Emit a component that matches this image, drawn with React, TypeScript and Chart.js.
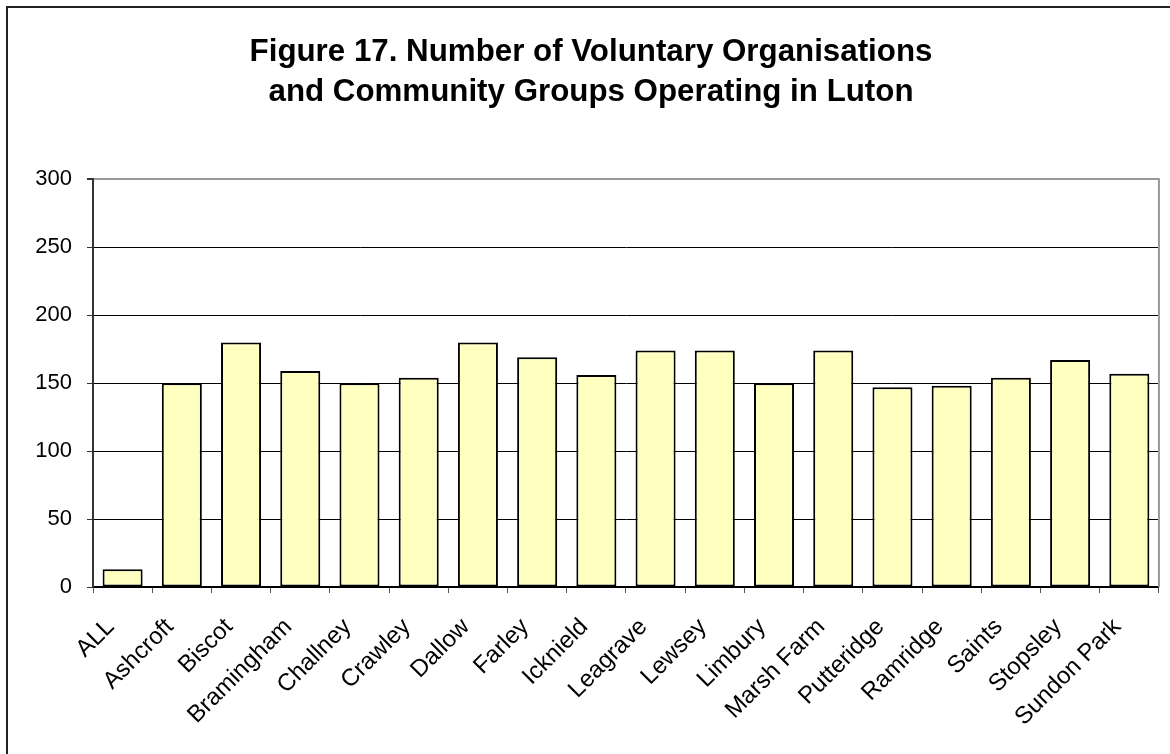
import React, { useEffect, useRef } from 'react';
import { Chart, registerables } from 'chart.js';

Chart.register(...registerables);

const categories = [
  'ALL', 'Ashcroft', 'Biscot', 'Bramingham', 'Challney', 'Crawley', 'Dallow', 'Farley', 'Icknield',
  'Leagrave', 'Lewsey', 'Limbury', 'Marsh Farm', 'Putteridge', 'Ramridge', 'Saints', 'Stopsley', 'Sundon Park',
];
const counts = [13, 150, 180, 159, 150, 154, 180, 169, 156, 174, 174, 150, 174, 147, 148, 154, 167, 157];
const titleLines = ['Figure 17. Number of Voluntary Organisations', 'and Community Groups Operating in Luton'];
const yMin = 0;
const yMax = 300;
const yStep = 50;

const FONT = "'Liberation Sans', Arial, Helvetica, sans-serif";

const framePlugin = {
  id: 'plotFrame',
  beforeDatasetsDraw(chart: any) {
    const { ctx, chartArea } = chart;
    ctx.save();
    ctx.strokeStyle = '#999';
    ctx.lineWidth = 2;
    ctx.beginPath();
    ctx.moveTo(chartArea.right, chartArea.top - 1);
    ctx.lineTo(chartArea.right, chartArea.bottom);
    ctx.stroke();
    ctx.restore();
  },
};

export default function App() {
  const canvasRef = useRef<HTMLCanvasElement | null>(null);

  useEffect(() => {
    const canvas = canvasRef.current;
    if (!canvas) return;
    const chart = new Chart(canvas, {
      type: 'bar',
      data: {
        labels: categories,
        datasets: [
          {
            data: counts,
            backgroundColor: '#FFFFC0',
            borderColor: '#000',
            borderWidth: 2,
            borderSkipped: false,
            barPercentage: 0.676,
            categoryPercentage: 1,
          },
        ],
      },
      options: {
        animation: false,
        responsive: false,
        maintainAspectRatio: false,
        layout: { padding: { left: 23, right: 11, top: 0, bottom: 0 } },
        plugins: {
          legend: { display: false },
          tooltip: { enabled: false },
          title: {
            display: true,
            text: titleLines,
            color: '#000',
            font: { family: FONT, size: 31.3, weight: 'bold', lineHeight: 40 / 31.3 },
            padding: { top: 32.6, bottom: 66.7 },
          },
        },
        scales: {
          x: {
            afterFit: (s: any) => {
              s.height = 167;
            },
            grid: {
              offset: true,
              drawOnChartArea: false,
              drawTicks: true,
              tickLength: 6,
              color: '#555',
            },
            border: { color: '#000', width: 2 },
            ticks: {
              autoSkip: false,
              maxRotation: 45,
              minRotation: 45,
              padding: 20,
              labelOffset: -12,
              color: '#000',
              font: { family: FONT, size: 24 },
            },
          },
          y: {
            min: yMin,
            max: yMax,
            afterFit: (s: any) => {
              s.width = 70;
            },
            grid: {
              color: (c: any) => (c.tick && c.tick.value === yMax ? '#999' : '#000'),
              lineWidth: (c: any) => (c.tick && c.tick.value === yMax ? 2 : 1),
              drawTicks: true,
              tickLength: 6,
              tickColor: '#333',
            },
            border: { color: '#333', width: 2 },
            ticks: {
              stepSize: yStep,
              padding: 15,
              color: '#000',
              font: { family: FONT, size: 22 },
            },
          },
        },
      },
      plugins: [framePlugin],
    } as any);
    return () => chart.destroy();
  }, []);

  return (
    <div
      style={{
        position: 'fixed',
        left: 0,
        top: 0,
        width: 1170,
        height: 754,
        overflow: 'hidden',
        background: '#fff',
      }}
    >
      <canvas ref={canvasRef} width={1170} height={754} style={{ display: 'block' }} />
      <div
        style={{
          position: 'absolute',
          left: 6,
          top: 6,
          width: 1200,
          height: 800,
          border: '2px solid #222',
          pointerEvents: 'none',
        }}
      />
    </div>
  );
}
